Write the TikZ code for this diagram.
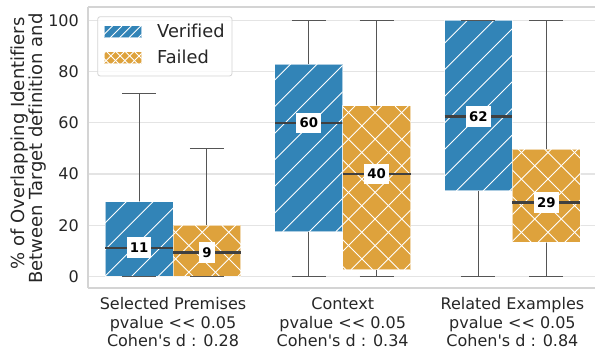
\documentclass[tikz,border=0pt]{standalone}
\usepackage{fontspec}
\setmainfont{DejaVu Sans}[Ligatures={TeXOff,NoCommon}]
\definecolor{vblue}{HTML}{3284B7}
\definecolor{forange}{HTML}{DEA23C}
\definecolor{gridc}{HTML}{E4E4E4}
\definecolor{spinec}{HTML}{D4D4D4}
\definecolor{wcol}{HTML}{555555}
\definecolor{mcol}{HTML}{404040}
\definecolor{txt}{HTML}{262626}
\tikzset{
  hatchline/.style={draw=white, line width=0.9pt},
  boxedge/.style={draw=white, draw opacity=0.6, line width=1pt},
  gridline/.style={draw=gridc, line width=1.2pt},
  spine/.style={draw=spinec, line width=1.2pt},
  whisk/.style={draw=wcol, line width=1.1pt},
  medline/.style={draw=mcol, line width=2.6pt},
  medlabel/.style={fill=white, text=black, font=\fontsize{13.3}{15}\selectfont\bfseries, inner xsep=3.1pt, inner ysep=0pt, minimum height=20.7pt},
  ticklab/.style={font=\fontsize{16}{18}\selectfont, text=txt, inner sep=0pt},
  leglab/.style={font=\fontsize{17.8}{20}\selectfont, text=txt, inner sep=0pt, anchor=base west},
  ylab/.style={font=\fontsize{18}{20}\selectfont, text=txt, inner sep=0pt, rotate=90, anchor=base},
  legframe/.style={draw=spinec, fill=white, fill opacity=0.8, rounded corners=2.5pt, line width=0.8pt},
}
\newcommand\hatchNE[5]{%
  \begin{scope}
  \clip (#1,#2) rectangle (#3,#4);
  \pgfmathtruncatemacro\hkmin{floor((#1-#4-2.7)/#5)-1}
  \pgfmathtruncatemacro\hkmax{ceil((#3-#2-2.7)/#5)+1}
  \foreach \k in {\hkmin,...,\hkmax}{
    \pgfmathsetmacro\hcc{2.7+\k*#5}
    \draw[hatchline] ({\hcc+#2},#2) -- ({\hcc+#4},#4);
  }
  \end{scope}}
\newcommand\hatchNW[5]{%
  \begin{scope}
  \clip (#1,#2) rectangle (#3,#4);
  \pgfmathtruncatemacro\hkmin{floor((#1+#2-2.7)/#5)-1}
  \pgfmathtruncatemacro\hkmax{ceil((#3+#4-2.7)/#5)+1}
  \foreach \k in {\hkmin,...,\hkmax}{
    \pgfmathsetmacro\hcc{2.7+\k*#5}
    \draw[hatchline] ({\hcc-#2},#2) -- ({\hcc-#4},#4);
  }
  \end{scope}}
% #1 centre (group units) #2 colour #3 hatch type #4 q1 #5 median #6 q3 #7 upper whisker #8 label #9 name
\newcommand\bp[9]{%
  \pgfmathsetmacro\bxa{173+169.7*(#1-0.2)}
  \pgfmathsetmacro\bxb{173+169.7*(#1+0.2)}
  \pgfmathsetmacro\bxc{173+169.7*(#1)}
  \pgfmathsetmacro\bya{75.5+2.56*(#4)}
  \pgfmathsetmacro\bym{75.5+2.56*(#5)}
  \pgfmathsetmacro\byb{75.5+2.56*(#6)}
  \pgfmathsetmacro\byw{75.5+2.56*(#7)}
  \draw[whisk] (\bxc,\byb) -- (\bxc,\byw);
  \draw[whisk] (\bxc,\bya) -- (\bxc,75.5);
  \fill[#2] (\bxa,\bya) rectangle (\bxb,\byb);
  \ifnum#3=1
    \hatchNE{\bxa}{\bya}{\bxb}{\byb}{26.6}
  \else
    \hatchNE{\bxa}{\bya}{\bxb}{\byb}{26.6}
    \hatchNW{\bxa}{\bya}{\bxb}{\byb}{26.6}
  \fi
  \draw[boxedge] (\bxa,\bya) rectangle (\bxb,\byb);
  \draw[whisk] ({\bxc-17},\byw) -- ({\bxc+17},\byw);
  \draw[whisk] ({\bxc-17},75.5) -- ({\bxc+17},75.5);
  \draw[medline] (\bxa,\bym) -- (\bxb,\bym);
  \node[medlabel] (#9) at (\bxc,\bym) {#8};
}
\begin{document}
\begin{tikzpicture}[x=1pt,y=1pt]
\useasboundingbox (0,0) rectangle (595,352);
% grid
\foreach \v in {0,20,...,100}{
  \draw[gridline] (88,{75.5+2.56*\v}) -- (595,{75.5+2.56*\v});
  \node[ticklab, anchor=east] (yt\v) at (79,{75.5+2.56*\v}) {\v};
}
% spines
\draw[spine] (88,64) -- (88,345);
\draw[spine] (88,64) -- (595,64);
\draw[spine] (88,345) -- (595,345);
% boxes
\bp{-0.2}{vblue}{1}{0}{11.2}{29.2}{71.4}{11}{m1}
\bp{0.2}{forange}{2}{0}{9.3}{20}{50}{9}{m2}
\bp{0.8}{vblue}{1}{17.5}{60}{83}{100}{60}{m3}
\bp{1.2}{forange}{2}{2.6}{40}{66.6}{100}{40}{m4}
\bp{1.8}{vblue}{1}{33.4}{62.5}{100}{100}{62}{m5}
\bp{2.2}{forange}{2}{13.4}{28.8}{49.8}{100}{29}{m6}
% x labels
\foreach \g/\t [count=\i] in {0/Selected Premises, 1/Context, 2/Related Examples}{
  \node[ticklab, anchor=base] (xa\i) at ({173+169.7*\g},42) {\t};
}
\foreach \g/\t [count=\i] in {0/0.28, 1/0.34, 2/0.84}{
  \node[ticklab, anchor=base] (xb\i) at ({173+169.7*\g},23.7) {pvalue << 0.05};
  \node[ticklab, anchor=base] (xc\i) at ({173+169.7*\g},5.3) {Cohen's d : \t};
}
% y label
\node[ylab] (yl1) at (24,208.6) {\% of Overlapping Identifiers};
\node[ylab] (yl2) at (42.5,203.5) {Between Target definition and};
% legend
\draw[legframe] (97.7,276) rectangle (232,335.3);
\fill[vblue] (104,314.3) rectangle (141.7,326);
\hatchNE{104}{314.3}{141.7}{326}{9.4}
\draw[boxedge] (104,314.3) rectangle (141.7,326);
\fill[forange] (104,288) rectangle (141.7,300.3);
\hatchNE{104}{288}{141.7}{300.3}{9.4}
\hatchNW{104}{288}{141.7}{300.3}{9.4}
\draw[boxedge] (104,288) rectangle (141.7,300.3);
\node[leglab] (legv) at (157,314.3) {Verified};
\node[leglab] (legf) at (157,288) {Failed};
\end{tikzpicture}
\end{document}
